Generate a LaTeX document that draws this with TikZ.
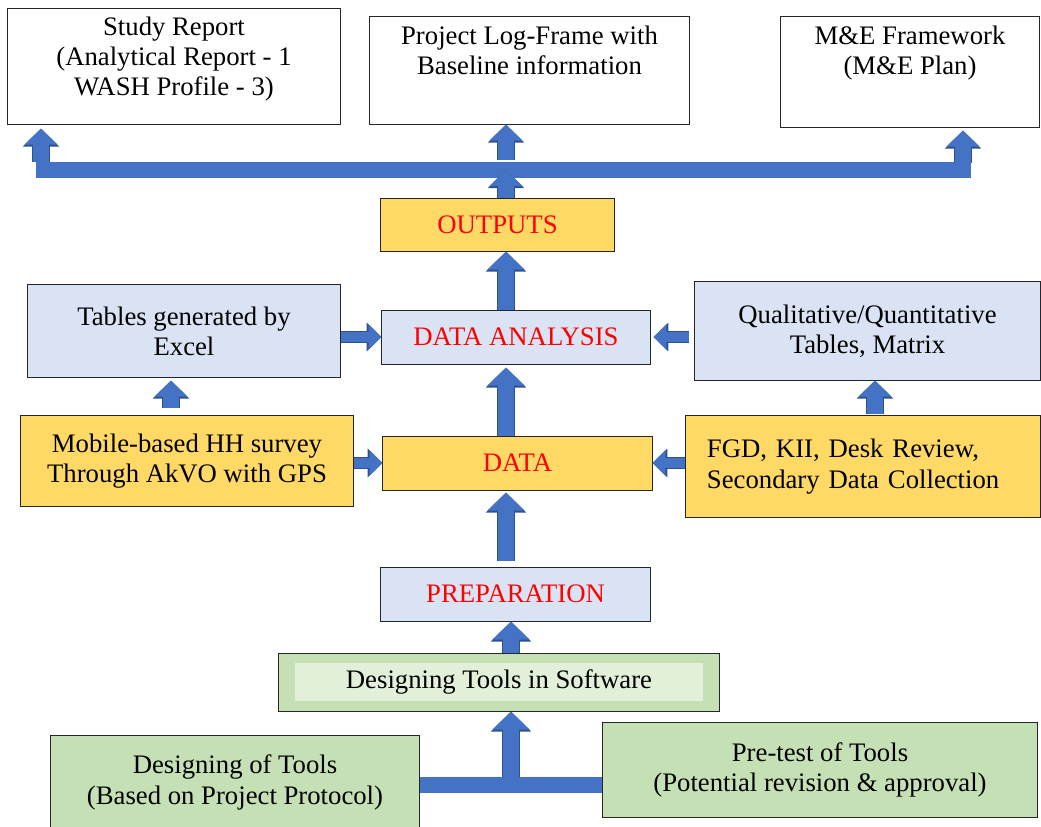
\documentclass[tikz,border=0pt]{standalone}
\usepackage{fontspec}
\setmainfont{Liberation Serif}
\usetikzlibrary{arrows.meta,positioning}

\definecolor{boxyellow}{HTML}{FFD966}
\definecolor{boxblue}{HTML}{DAE3F3}
\definecolor{boxgreen}{HTML}{C5E0B4}
\definecolor{boxgreenlight}{HTML}{E2F0D9}
\definecolor{arrowblue}{HTML}{4472C4}
\definecolor{arrowedge}{HTML}{2F528F}

\newcommand{\boxfont}{\fontsize{19pt}{21.5pt}\selectfont}

\tikzset{
  box/.style={draw=black!85, line width=0.7pt, align=center, font=\boxfont, inner sep=0pt},
  stage/.style={box, text=red},
  boxtext/.style={align=center, font=\boxfont, inner sep=0pt},
  bar/.style={draw=arrowblue, line width=#1},
  bigarrow/.style={draw=arrowblue, line width=0.42cm, -{Triangle[length=0.45cm,width=0.9cm]},
    preaction={draw=arrowedge, line width=0.47cm, -{Triangle[length=0.5cm,width=0.98cm]}}},
  midarrow/.style={draw=arrowblue, line width=0.38cm, -{Triangle[length=0.4cm,width=0.8cm]},
    preaction={draw=arrowedge, line width=0.43cm, -{Triangle[length=0.45cm,width=0.88cm]}}},
  sidearrow/.style={draw=arrowblue, line width=0.27cm, -{Triangle[length=0.32cm,width=0.62cm]},
    preaction={draw=arrowedge, line width=0.32cm, -{Triangle[length=0.37cm,width=0.7cm]}}},
}

\begin{document}
\begin{tikzpicture}[x=0.025cm, y=-0.025cm]
    \useasboundingbox (0,0) rectangle (1041,827);

    % reports
    \node[box, minimum width=8.3cm, minimum height=2.875cm] (study) at (174,66.5) {};
    \node[boxtext, below=0.2cm of study.north] (studytext) {Study Report\\(Analytical Report - 1\\WASH Profile - 3)};
    \node[box, minimum width=7.975cm, minimum height=2.675cm] (logframe) at (529.5,70.5) {};
    \node[boxtext, below=0.22cm of logframe.north] (logframetext) {Project Log-Frame with\\Baseline information};
    \node[box, minimum width=6.45cm, minimum height=2.75cm] (mande) at (910,72) {};
    \node[boxtext, below=0.22cm of mande.north] (mandetext) {M\&E Framework\\(M\&E Plan)};

    % main column
    \node[stage, fill=boxyellow, minimum width=5.825cm, minimum height=1.3cm] (outputs) at (497.5,225) {OUTPUTS};
    \node[stage, fill=boxblue, minimum width=6.7cm, minimum height=1.35cm] (analysis) at (516,337) {DATA ANALYSIS};
    \node[stage, fill=boxyellow, minimum width=6.725cm, minimum height=1.35cm] (data) at (517.5,463) {DATA};
    \node[stage, fill=boxblue, minimum width=6.725cm, minimum height=1.35cm] (prep) at (515.5,594) {PREPARATION};
    \node[box, fill=boxgreen, minimum width=11cm, minimum height=1.45cm] (software) at (499,682) {};
    \node[boxtext, fill=boxgreenlight, minimum width=10.2cm, minimum height=0.95cm] (softwaretext) at (software.center) {Designing Tools in Software};

    % side boxes
    \node[box, fill=boxblue, minimum width=7.8cm, minimum height=2.3cm] (tables) at (184,331) {Tables generated by\\Excel};
    \node[box, fill=boxyellow, minimum width=8.3cm, minimum height=2.25cm] (mobile) at (187,461) {Mobile-based HH survey\\Through AkVO with GPS};
    \node[box, fill=boxblue, minimum width=8.625cm, minimum height=2.45cm] (qual) at (867.5,331) {Qualitative/Quantitative\\Tables, Matrix};
    \node[box, fill=boxyellow, align=left, inner xsep=0.525cm, text width=7.8cm, minimum height=2.525cm] (fgd) at (863,466.5) {FGD, KII, Desk Review,\\Secondary Data Collection};

    % tools
    \node[box, fill=boxgreen, minimum width=9.2cm, minimum height=2.325cm] (toolsdesign) at (235,782.5) {Designing of Tools\\(Based on Project Protocol)};
    \node[box, fill=boxgreen, minimum width=10.85cm, minimum height=2.35cm] (pretest) at (820,770) {Pre-test of Tools\\(Potential revision \& approval)};

    % bars
    \coordinate (barL) at (36,170);
    \coordinate (barR) at (971,170);
    \coordinate (spine) at (506,0);
    \coordinate (junction) at (511,785);
    \draw[bar=0.375cm] (barL) -- (barR);
    \draw[bar=0.4cm] (toolsdesign.east |- junction) -- (pretest.west |- junction);

    % arrows up to the reports
    \coordinate (rootA) at (41,162);
    \coordinate (rootB) at (506,160);
    \coordinate (rootC) at (963,163);
    \draw[midarrow, shorten >=0.1cm] (rootA) -- (rootA |- study.south);
    \draw[midarrow] (rootB) -- (rootB |- logframe.south);
    \draw[midarrow, shorten >=0.075cm] (rootC) -- (rootC |- mande.south);
    \draw[midarrow] (outputs.north -| spine) -- (barL -| spine);

    % main column arrows
    \draw[bigarrow] (analysis.north -| spine) -- (outputs.south -| spine);
    \draw[bigarrow, shorten >=0.075cm] (data.north -| spine) -- (analysis.south -| spine);
    \draw[bigarrow, shorten <=0.15cm, shorten >=0.05cm] (prep.north -| spine) -- (data.south -| spine);
    \draw[bigarrow] (software.north -| junction) -- (prep.south -| junction);
    \draw[bigarrow] ([yshift=0.2cm]junction) -- (software.south -| junction);

    % side arrows
    \draw[sidearrow] (tables.east |- analysis.west) -- (analysis.west);
    \draw[sidearrow] (mobile.east |- data.west) -- (data.west);
    \draw[sidearrow, shorten <=0.125cm, shorten >=0.075cm] (qual.west |- analysis.east) -- (analysis.east);
    \draw[sidearrow] (fgd.west |- data.east) -- (data.east);
    \draw[midarrow, shorten <=0.175cm, shorten >=0.075cm] ([xshift=-0.4cm]mobile.north) -- ([xshift=-0.4cm]mobile.north |- tables.south);
    \draw[midarrow, shorten <=0.025cm] ([xshift=0.3cm]fgd.north) -- ([xshift=0.3cm]fgd.north |- qual.south);
\end{tikzpicture}
\end{document}
